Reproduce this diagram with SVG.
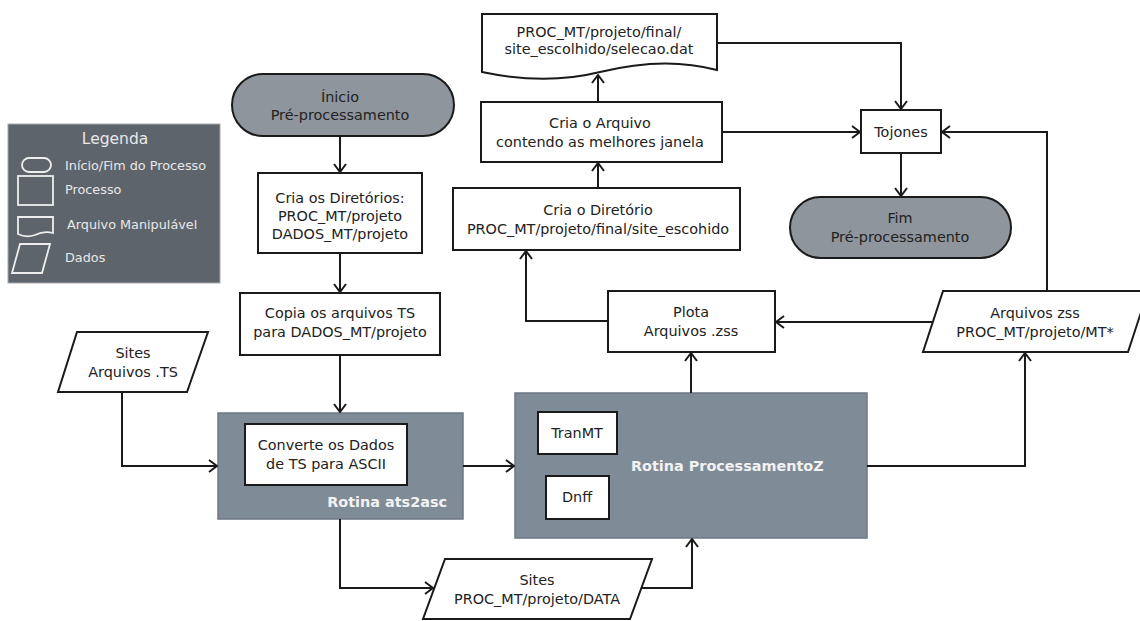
<svg xmlns="http://www.w3.org/2000/svg" width="1140" height="621" viewBox="0 0 1140 621">
<defs>
<marker id="arr" viewBox="0 0 10 14" refX="9" refY="7" markerWidth="10" markerHeight="14" markerUnits="userSpaceOnUse" orient="auto">
<path d="M1,1 L9,7 L1,13" fill="none" stroke="#1a1a1a" stroke-width="2"/>
</marker>
</defs>
<style>
text{font-family:"DejaVu Sans","Liberation Sans",sans-serif;font-size:14.4px;fill:#222;text-anchor:middle}
.box{fill:#fff;stroke:#1a1a1a;stroke-width:2}
.term{fill:#8f959c;stroke:#1a1a1a;stroke-width:2}
.rot{fill:#808b98;stroke:#6d7783;stroke-width:1.5}
.rl{fill:#f2f2f2;font-weight:bold;font-size:14.4px}
.leg{fill:#5e646c;stroke:#aaa;stroke-width:1}
.lt{fill:#e8e8e8;font-size:12.8px;text-anchor:start}
.li{fill:none;stroke:#eee;stroke-width:1.8}
.c{fill:none;stroke:#1a1a1a;stroke-width:2;marker-end:url(#arr)}
</style>
<g id="legend">
<rect class="leg" x="8" y="124" width="212" height="159"/>
<text x="115" y="144" style="fill:#e8e8e8;font-size:15.5px">Legenda</text>
<rect class="li" x="22" y="158" width="29" height="14" rx="7"/>
<text class="lt" x="65" y="170">Início/Fim do Processo</text>
<rect class="li" x="18" y="176" width="35" height="29"/>
<text class="lt" x="65" y="194">Processo</text>
<path class="li" d="M18,217 H53 V233 C45,231 39,233 35,235 C29,237 22,236 18,234 Z"/>
<text class="lt" x="67" y="229">Arquivo Manipulável</text>
<path class="li" d="M20,244 H50 L42,273 H12 Z"/>
<text class="lt" x="65" y="262">Dados</text>
</g>
<g id="rotina-ats2asc">
<rect class="rot" x="218" y="413" width="245" height="106"/>
<text class="rl" x="447" y="507" style="text-anchor:end">Rotina ats2asc</text>
</g>
<g id="rotina-processamentoz">
<rect class="rot" x="515" y="393" width="352" height="145"/>
<text class="rl" x="631" y="471" style="text-anchor:start">Rotina ProcessamentoZ</text>
</g>
<g id="connectors">
<path class="c" d="M340,137 V172"/>
<path class="c" d="M340,253 V292"/>
<path class="c" d="M340,355 V412"/>
<path class="c" d="M122,392 V466 H217"/>
<path class="c" d="M463,466 H514"/>
<path class="c" d="M340,519 V588 H433"/>
<path class="c" d="M641,588 H692 V539"/>
<path class="c" d="M691,393 V353"/>
<path class="c" d="M867,466 H1025 V353"/>
<path class="c" d="M933,322 H776"/>
<path class="c" d="M608,321 H526 V251"/>
<path class="c" d="M598,188 V163"/>
<path class="c" d="M598,102 V75"/>
<path class="c" d="M717,43 H901 V109"/>
<path class="c" d="M722,132 H860"/>
<path class="c" d="M1047,291 V132 H942"/>
<path class="c" d="M901,153 V196"/>
</g>
<g id="inicio">
<rect class="term" x="232" y="74" width="222" height="62" rx="31"/>
<text x="340" y="102">Ínicio</text>
<text x="340" y="120">Pré-processamento</text>
</g>
<g id="cria-diretorios">
<rect class="box" x="258" y="173" width="164" height="80"/>
<text x="340" y="203">Cria os Diretórios:</text>
<text x="340" y="221">PROC_MT/projeto</text>
<text x="340" y="239">DADOS_MT/projeto</text>
</g>
<g id="copia">
<rect class="box" x="240" y="293" width="200" height="62"/>
<text x="340" y="318">Copia os arquivos TS</text>
<text x="340" y="337">para DADOS_MT/projeto</text>
</g>
<g id="sites-ts">
<path class="box" d="M77,332 H208 L187,392 H58 Z"/>
<text x="133" y="358">Sites</text>
<text x="133" y="377">Arquivos .TS</text>
</g>
<g id="converte">
<rect class="box" x="245" y="424" width="162" height="61"/>
<text x="326" y="450">Converte os Dados</text>
<text x="326" y="469">de TS para ASCII</text>
</g>
<g id="sites-data">
<path class="box" d="M445,559 H652 L630,619 H423 Z"/>
<text x="537" y="585">Sites</text>
<text x="537" y="604">PROC_MT/projeto/DATA</text>
</g>
<g id="tranmt">
<rect class="box" x="538" y="412" width="79" height="42"/>
<text x="577" y="438">TranMT</text>
</g>
<g id="dnff">
<rect class="box" x="546" y="476" width="63" height="43"/>
<text x="577" y="502">Dnff</text>
</g>
<g id="plota">
<rect class="box" x="608" y="291" width="167" height="61"/>
<text x="691" y="317">Plota</text>
<text x="691" y="336">Arquivos .zss</text>
</g>
<g id="arquivos-zss">
<path class="box" d="M943,291 H1148 L1128,352 H923 Z"/>
<text x="1035" y="318">Arquivos zss</text>
<text x="1035" y="337">PROC_MT/projeto/MT*</text>
</g>
<g id="cria-diretorio-final">
<rect class="box" x="453" y="188" width="287" height="62"/>
<text x="598" y="215">Cria o Diretório</text>
<text x="598" y="234">PROC_MT/projeto/final/site_escohido</text>
</g>
<g id="cria-arquivo">
<rect class="box" x="481" y="102" width="241" height="60"/>
<text x="600" y="128">Cria o Arquivo</text>
<text x="600" y="147">contendo as melhores janela</text>
</g>
<g id="selecao">
<path class="box" d="M482,14 H717 V70 C680,60 640,62 600,72 C560,82 520,80 482,72 Z"/>
<text x="599" y="37">PROC_MT/projeto/final/</text>
<text x="599" y="54">site_escolhido/selecao.dat</text>
</g>
<g id="tojones">
<rect class="box" x="861" y="110" width="80" height="43"/>
<text x="901" y="137">Tojones</text>
</g>
<g id="fim">
<rect class="term" x="790" y="197" width="221" height="61" rx="30.5"/>
<text x="900" y="223">Fim</text>
<text x="900" y="242">Pré-processamento</text>
</g>
</svg>
